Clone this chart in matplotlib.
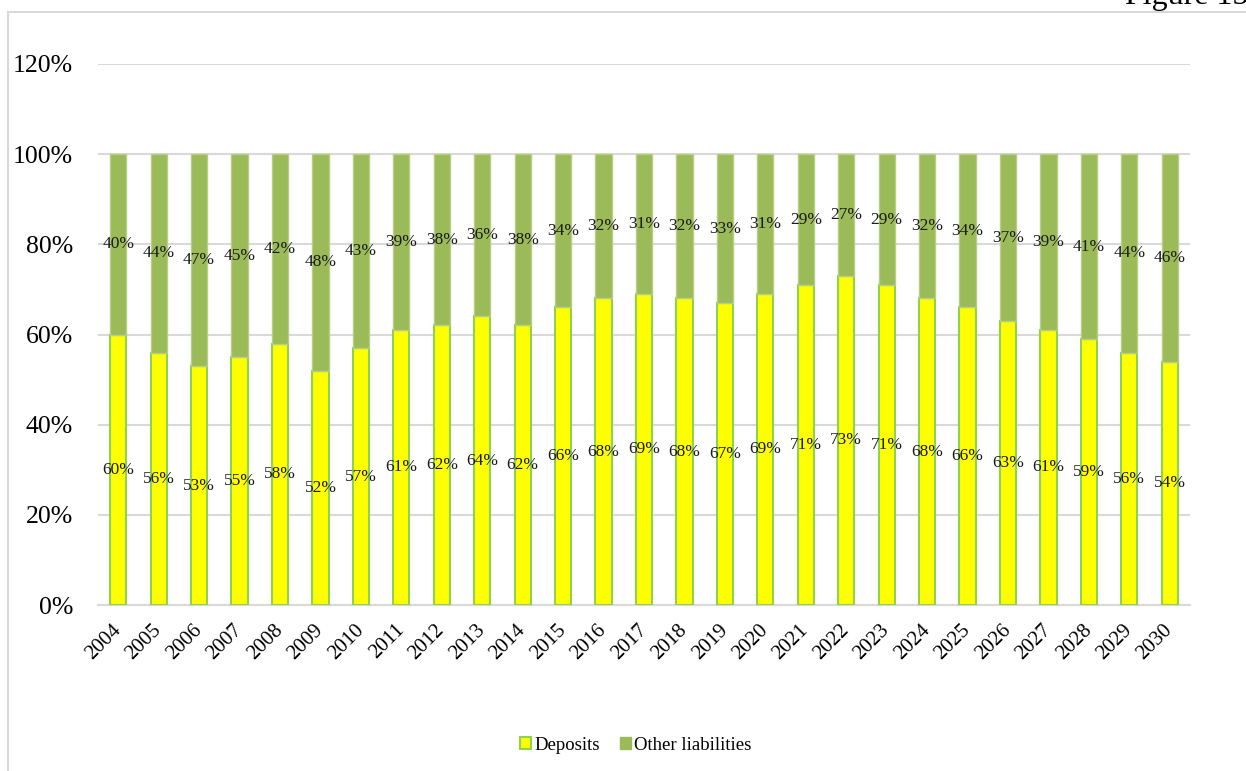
import numpy as np
import matplotlib
matplotlib.use("Agg")
import matplotlib.pyplot as plt
from matplotlib.patches import Rectangle, Patch

plt.rcParams["font.family"] = ["Liberation Serif", "DejaVu Serif"]

years = [str(y) for y in range(2004, 2031)]
deposits = [60, 56, 53, 55, 58, 52, 57, 61, 62, 64, 62, 66, 68, 69, 68,
            67, 69, 71, 73, 71, 68, 66, 63, 61, 59, 56, 54]
other = [40, 44, 47, 45, 42, 48, 43, 39, 38, 36, 38, 34, 32, 31, 32,
         33, 31, 29, 27, 29, 32, 34, 37, 39, 41, 44, 46]
yticks = [0, 20, 40, 60, 80, 100, 120]

W, H = 1246, 771
fig = plt.figure(figsize=(W / 100, H / 100), dpi=100)

# light frame around the chart area
fig.patches.append(Rectangle((8 / W, -0.1), 1.2, 1 - 12 / H + 0.1,
                             transform=fig.transFigure, fill=False,
                             edgecolor="#d9d9d9", linewidth=1.5))
fig.text(1125 / W, 1 - 11 / H, "Figure 15", fontsize=23, ha="left",
         va="bottom", color="black")

ax = fig.add_axes([98 / W, 1 - 605 / H, (1190 - 98) / W, (605 - 64) / H])

x = np.arange(len(years))
dep = np.array(deposits) / 100
oth = np.array(other) / 100
width = 0.4

ax.bar(x, dep, width, color="#FFFF00", edgecolor="#92D050", linewidth=1.5,
       label="Deposits", zorder=3)
ax.bar(x, oth, width, bottom=dep, color="#9BBB59", edgecolor="#B5CF84",
       linewidth=1.0, label="Other liabilities", zorder=3)

for i in range(len(years)):
    ax.text(x[i], dep[i] / 2, f"{deposits[i]}%", ha="center", va="center",
            fontsize=12.5, color="#1a1a1a", zorder=4)
    ax.text(x[i], dep[i] + oth[i] / 2, f"{other[i]}%", ha="center",
            va="center", fontsize=12.5, color="#1a1a1a", zorder=4)

ax.set_xlim(-0.5, len(years) - 0.5)
ax.set_ylim(0, 1.2)
ax.set_yticks([t / 100 for t in yticks])
ax.set_yticklabels([f"{t}%" for t in yticks], fontsize=18.5)
ax.set_xticks(x)
ax.set_xticklabels(years, rotation=45, ha="right", va="center",
                   rotation_mode="anchor", fontsize=15)
ax.tick_params(axis="both", length=0)
ax.tick_params(axis="y", pad=18)
ax.tick_params(axis="x", pad=16)

ax.grid(axis="y", color="#d9d9d9", linewidth=1.5, zorder=0)
for side in ["top", "right", "left"]:
    ax.spines[side].set_visible(False)
ax.spines["bottom"].set_color("#d9d9d9")
ax.spines["bottom"].set_linewidth(1.5)

handles = [Patch(facecolor="#FFFF00", edgecolor="#92D050", linewidth=1.5),
           Patch(facecolor="#9BBB59", edgecolor="#9BBB59")]
fig.legend(handles, ["Deposits", "Other liabilities"], loc="center",
           bbox_to_anchor=(636 / W, 1 - 745 / H), ncol=2, frameon=False,
           fontsize=13.5, handlelength=0.55, handleheight=0.55,
           handletextpad=0.2, columnspacing=1.1)

fig.savefig("out.png", dpi=100)
